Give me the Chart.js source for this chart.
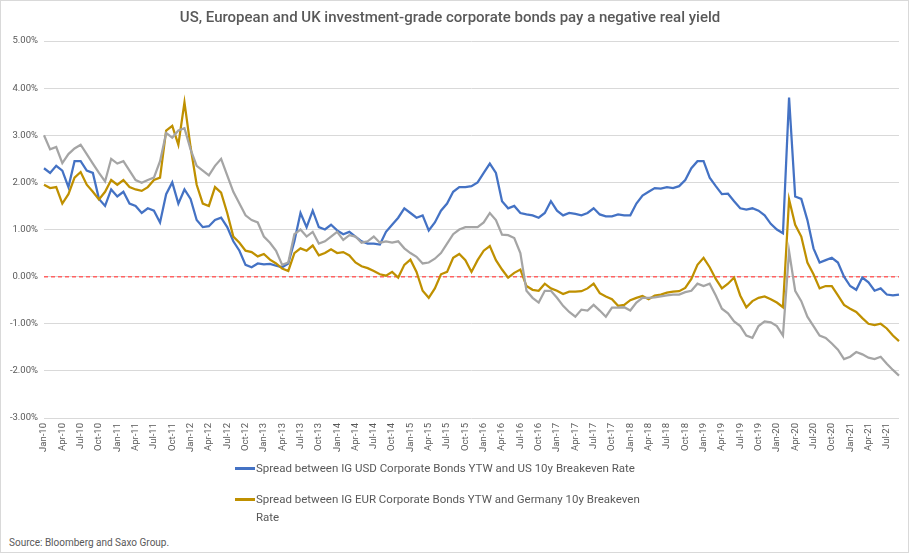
<!DOCTYPE html>
<html>
<head>
<meta charset="utf-8">
<script src="https://cdn.jsdelivr.net/npm/chart.js@4"></script>
<style>
  body { margin: 0; background: #fff; font-family: Roboto, "Liberation Sans", sans-serif; }
  #wrap { position: relative; width: 909px; height: 553px; border: 1px solid #d9d9d9; box-sizing: border-box; }
  #chart { position: absolute; left: 0; top: 0; }
  .legend { position: absolute; left: 234px; width: 430px; font-size: 11.5px; color: #595959; line-height: 18px; }
  .legend .sw { position: absolute; left: 0; width: 20px; height: 2.5px; top: 8px; }
  .legend .tx { margin-left: 21px; }
  #src { position: absolute; left: 8px; top: 536px; font-size: 10px; color: #595959; }
</style>
</head>
<body>
<div id="wrap">
  <canvas id="chart" width="909" height="460"></canvas>
  <div class="legend" style="top:458px"><span class="sw" style="background:#4472c4"></span><div class="tx">Spread between IG USD Corporate Bonds YTW and US 10y Breakeven Rate</div></div>
  <div class="legend" style="top:489px"><span class="sw" style="background:#bf9000"></span><div class="tx" style="width:395px">Spread between IG EUR Corporate Bonds YTW and Germany 10y Breakeven Rate</div></div>
  <div id="src">Source: Bloomberg and Saxo Group.</div>
</div>
<script>
// monthly, Jan-10 .. Sep-21
const mesesAbrev = ["Jan", "Feb", "Mar", "Apr", "May", "Jun", "Jul", "Aug", "Sep", "Oct", "Nov", "Dec"];
const meses = [];
for (let i = 0; i < 141; i++) {
    meses.push(mesesAbrev[i % 12] + "-" + (10 + Math.floor(i / 12)));
}

const usSpread = [
    2.3, 2.2, 2.35, 2.25, 1.9, 2.45, 2.45, 2.25, 2.2, 1.65,
    1.5, 1.85, 1.7, 1.8, 1.55, 1.5, 1.35, 1.45, 1.4, 1.15,
    1.75, 2.0, 1.55, 1.85, 1.65, 1.2, 1.05, 1.07, 1.2, 1.25,
    1.05, 0.75, 0.55, 0.25, 0.2, 0.28, 0.26, 0.27, 0.23, 0.2,
    0.28, 0.75, 1.35, 1.05, 1.4, 1.05, 1.0, 1.1, 0.98, 0.9,
    0.95, 0.85, 0.75, 0.7, 0.7, 0.68, 0.95, 1.1, 1.25, 1.45,
    1.35, 1.25, 1.3, 0.98, 1.15, 1.4, 1.55, 1.8, 1.9, 1.9,
    1.92, 2.0, 2.2, 2.4, 2.2, 1.6, 1.45, 1.5, 1.35, 1.32,
    1.3, 1.25, 1.35, 1.6, 1.4, 1.3, 1.35, 1.33, 1.3, 1.35,
    1.45, 1.32, 1.28, 1.28, 1.32, 1.3, 1.3, 1.55, 1.72, 1.8,
    1.88, 1.87, 1.9, 1.88, 1.92, 2.05, 2.3, 2.45, 2.45, 2.1,
    1.92, 1.75, 1.76, 1.6, 1.45, 1.42, 1.45, 1.4, 1.3, 1.12,
    1.0, 0.92, 3.8, 1.7, 1.65, 1.2, 0.6, 0.3, 0.35, 0.4,
    0.3, 0.0, -0.2, -0.28, -0.02, -0.12, -0.3, -0.25, -0.38, -0.4,
    -0.38
];

const eurSpread = [
    1.95, 1.88, 1.9, 1.55, 1.75, 2.1, 2.22, 1.95, 1.8, 1.64,
    1.8, 2.05, 1.95, 2.05, 1.9, 1.85, 1.82, 1.9, 2.05, 2.1,
    3.1, 3.2, 2.8, 3.7, 2.75, 1.95, 1.55, 1.5, 1.9, 1.78,
    1.35, 0.85, 0.72, 0.55, 0.52, 0.43, 0.48, 0.36, 0.28, 0.17,
    0.12, 0.5, 0.6, 0.55, 0.66, 0.45, 0.5, 0.58, 0.5, 0.52,
    0.45, 0.3, 0.22, 0.18, 0.12, 0.05, 0.02, 0.1, -0.02, 0.25,
    0.36, 0.1, -0.3, -0.45, -0.25, 0.05, 0.1, 0.4, 0.48, 0.35,
    0.1, 0.35, 0.55, 0.65, 0.35, 0.15, -0.02, 0.08, 0.15, -0.2,
    -0.28, -0.3, -0.15, -0.25, -0.3, -0.37, -0.32, -0.32, -0.31, -0.25,
    -0.15, -0.35, -0.42, -0.48, -0.62, -0.6, -0.5, -0.45, -0.41, -0.48,
    -0.4, -0.38, -0.34, -0.32, -0.31, -0.24, -0.05, 0.25, 0.4, 0.2,
    -0.05, -0.25, -0.15, -0.02, -0.4, -0.65, -0.52, -0.45, -0.42, -0.48,
    -0.55, -0.65, 1.64, 1.1, 0.85, 0.3, 0.05, -0.25, -0.2, -0.2,
    -0.4, -0.6, -0.68, -0.75, -0.88, -1.0, -1.03, -1.0, -1.1, -1.25,
    -1.37
];

const ukSpread = [
    3.0, 2.7, 2.75, 2.41, 2.6, 2.72, 2.8, 2.6, 2.4, 2.2,
    2.02, 2.5, 2.4, 2.45, 2.25, 2.05, 1.99, 2.05, 2.1, 2.45,
    3.05, 2.95, 3.1, 3.15, 2.7, 2.35, 2.25, 2.15, 2.35, 2.5,
    2.15, 1.8, 1.55, 1.3, 1.2, 1.15, 0.85, 0.72, 0.55, 0.25,
    0.3, 0.9, 1.0, 0.85, 0.95, 0.7, 0.75, 0.85, 0.95, 0.78,
    0.88, 0.85, 0.72, 0.75, 0.85, 0.72, 0.75, 0.72, 0.75, 0.6,
    0.5, 0.42, 0.28, 0.3, 0.38, 0.5, 0.7, 0.9, 1.0, 1.05,
    1.05, 1.05, 1.15, 1.35, 1.2, 0.89, 0.88, 0.82, 0.5, -0.3,
    -0.45, -0.55, -0.3, -0.3, -0.45, -0.62, -0.75, -0.85, -0.7, -0.72,
    -0.6, -0.72, -0.85, -0.66, -0.66, -0.65, -0.72, -0.55, -0.45, -0.45,
    -0.44, -0.42, -0.4, -0.38, -0.38, -0.33, -0.3, -0.15, -0.2, -0.15,
    -0.4, -0.68, -0.78, -0.95, -1.05, -1.25, -1.3, -1.05, -0.95, -0.97,
    -1.05, -1.25, 0.54, -0.3, -0.52, -0.85, -1.05, -1.25, -1.3, -1.42,
    -1.55, -1.75, -1.7, -1.6, -1.65, -1.72, -1.75, -1.7, -1.85, -1.98,
    -2.1
];

const yMin = -3, yMax = 5;

// dashed red line at zero
const linhaZero = {
    id: 'linhaZero',
    beforeDatasetsDraw(chart) {
        const y = chart.scales.y.getPixelForValue(0);
        const area = chart.chartArea;
        const ctx = chart.ctx;
        ctx.save();
        ctx.strokeStyle = '#ff6262';
        ctx.lineWidth = 1.5;
        ctx.setLineDash([4, 3]);
        ctx.beginPath();
        ctx.moveTo(area.left, y);
        ctx.lineTo(area.right, y);
        ctx.stroke();
        ctx.restore();
    }
};

const serie = (dados, cor) => ({
    data: dados,
    borderColor: cor,
    backgroundColor: cor,
    borderWidth: 2.25,
    pointRadius: 0,
    tension: 0,
    fill: false
});

new Chart(document.getElementById('chart').getContext('2d'), {
    type: 'line',
    data: {
        labels: meses,
        datasets: [
            serie(ukSpread, '#a5a5a5'),
            serie(eurSpread, '#bf9000'),
            serie(usSpread, '#4472c4')
        ]
    },
    options: {
        responsive: false,
        animation: false,
        layout: { padding: { left: 0, right: 11, top: 0, bottom: 0 } },
        plugins: {
            legend: { display: false },
            tooltip: { enabled: false },
            title: {
                display: true,
                text: 'US, European and UK investment-grade corporate bonds pay a negative real yield',
                color: '#595959',
                font: { family: 'Roboto', size: 15, weight: '500' },
                padding: { top: 8, bottom: 14 }
            }
        },
        scales: {
            x: {
                offset: false,
                grid: { display: false, drawTicks: false },
                border: { display: false },
                afterFit: (s) => { s.height = 43; },
                ticks: {
                    autoSkip: false,
                    minRotation: 90,
                    maxRotation: 90,
                    padding: 5,
                    color: '#595959',
                    font: { family: 'Roboto', size: 9.5 },
                    callback: (v, i) => (i % 3 === 0 ? meses[i] : null)
                }
            },
            y: {
                min: yMin,
                max: yMax,
                border: { display: false },
                grid: { color: '#d9d9d9', lineWidth: 1, drawTicks: false },
                afterFit: (s) => { s.width = 43; },
                ticks: {
                    stepSize: 1,
                    padding: 6,
                    color: '#595959',
                    font: { family: 'Roboto', size: 9.5 },
                    callback: (v) => v.toFixed(2) + '%'
                }
            }
        }
    },
    plugins: [linhaZero]
});
</script>
</body>
</html>
